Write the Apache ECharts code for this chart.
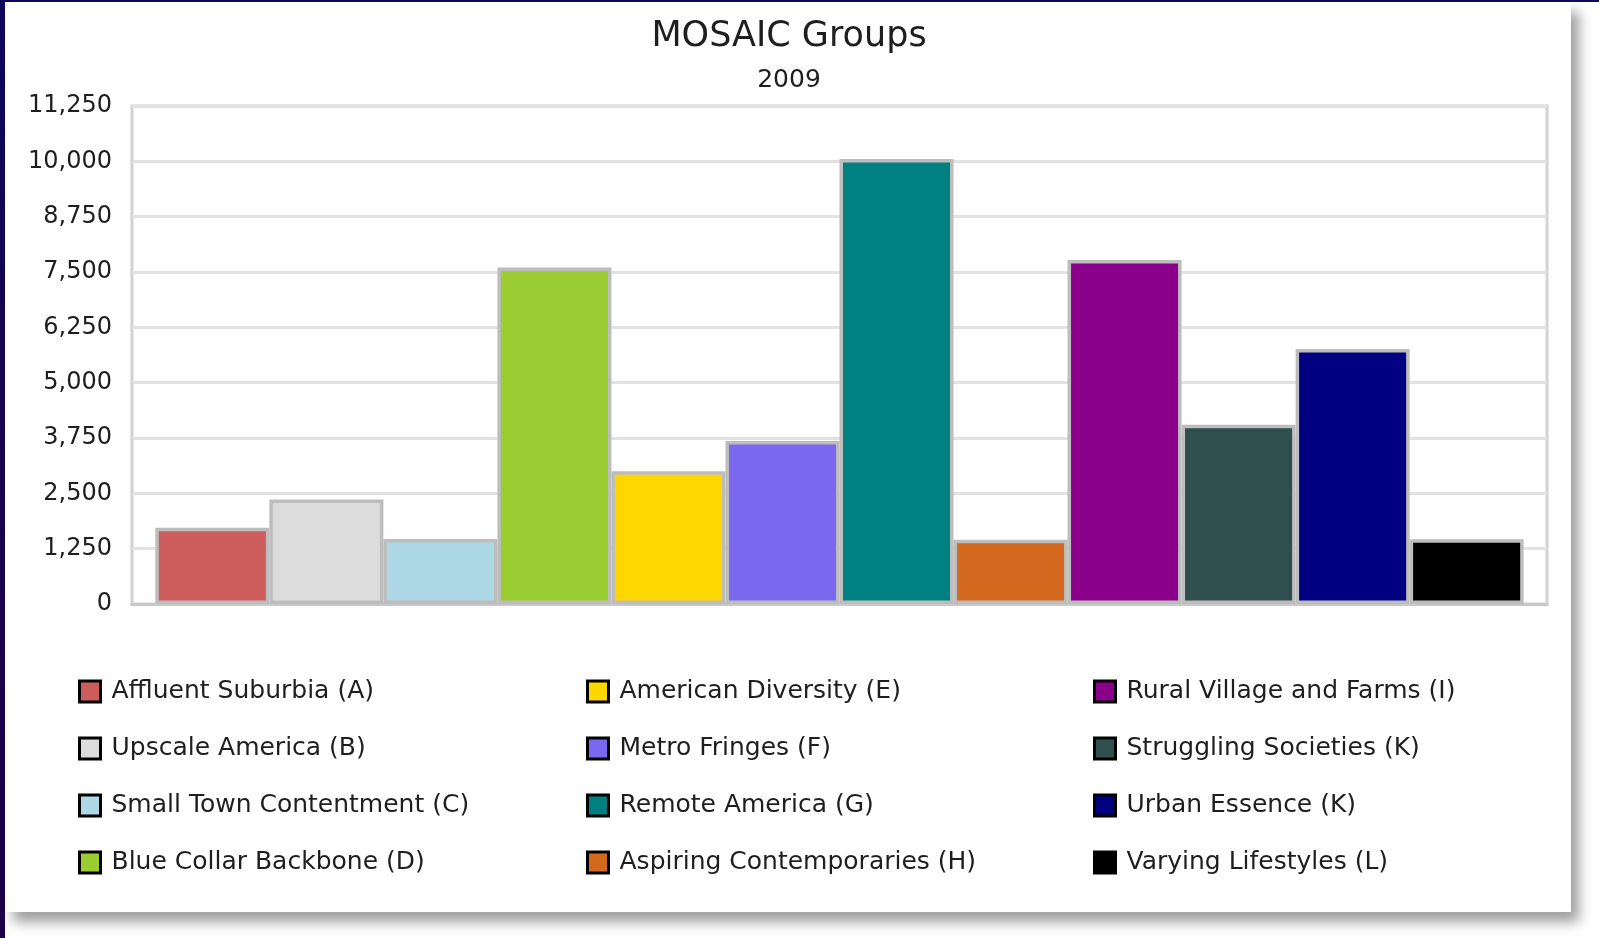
<!DOCTYPE html>
<html>
<head>
<meta charset="utf-8">
<script src="https://cdn.jsdelivr.net/npm/echarts@6/dist/echarts.min.js"></script>
<style>
  html, body { margin: 0; padding: 0; width: 1599px; height: 938px; overflow: hidden; background: #ffffff; }
  #stripL { position: absolute; left: 0; top: 0; width: 5px; height: 938px; background: linear-gradient(#10085c, #1e0046); }
  #stripT { position: absolute; left: 0; top: 0; width: 1599px; height: 2px; background: #10085c; }
  #panel { position: absolute; left: 5px; top: 2px; width: 1566px; height: 910px; background: #fff; box-shadow: 8px 10px 12px rgba(0,0,0,0.38); }
  #chart { position: absolute; left: 0; top: 0; width: 1599px; height: 938px; }
</style>
</head>
<body>
<div id="stripL"></div>
<div id="stripT"></div>
<div id="panel"></div>
<div id="chart"></div>
<script>
const chartTitle = 'MOSAIC Groups';
const chartSubtitle = '2009';
const groups = [
  'Affluent Suburbia (A)', 'Upscale America (B)', 'Small Town Contentment (C)', 'Blue Collar Backbone (D)',
  'American Diversity (E)', 'Metro Fringes (F)', 'Remote America (G)', 'Aspiring Contemporaries (H)',
  'Rural Village and Farms (I)', 'Struggling Societies (K)', 'Urban Essence (K)', 'Varying Lifestyles (L)'
];
const values = [1720, 2360, 1470, 7600, 3000, 3680, 10050, 1450, 7770, 4050, 5760, 1460];
const colors = ['#cd5c5c', '#dcdcdc', '#add8e6', '#9acd32', '#ffd700', '#7b68ee', '#008080', '#d2691e', '#8b008b', '#2f4f4f', '#000080', '#000000'];
const yTicks = [0, 1250, 2500, 3750, 5000, 6250, 7500, 8750, 10000, 11250];
const legendColumns = [groups.slice(0, 4), groups.slice(4, 8), groups.slice(8, 12)];

const FONT = 'DejaVu Sans';
const chart = echarts.init(document.getElementById('chart'), null, { renderer: 'canvas' });

const legendLefts = [78, 586, 1093];
const legends = legendColumns.map((names, i) => ({
  data: names,
  orient: 'vertical',
  left: legendLefts[i],
  top: 679,
  padding: 0,
  icon: 'rect',
  itemWidth: 21,
  itemHeight: 21,
  itemGap: 32,
  selectedMode: false,
  itemStyle: { borderColor: '#000', borderWidth: 3 },
  textStyle: { fontFamily: FONT, fontSize: 25, color: '#1e1e1e', lineHeight: 25, padding: [0, 0, 0, 6] }
}));

const option = {
  animation: false,
  backgroundColor: 'transparent',
  title: {
    text: chartTitle,
    subtext: chartSubtitle,
    left: 789,
    top: 19,
    padding: 0,
    textAlign: 'center',
    itemGap: 14,
    textStyle: { fontFamily: FONT, fontSize: 35, fontWeight: 'normal', color: '#1e1e1e' },
    subtextStyle: { fontFamily: FONT, fontSize: 25, color: '#1e1e1e' }
  },
  legend: legends,
  grid: {
    left: 132, right: 52, top: 106, bottom: 334,
    show: true, borderColor: '#d2d2d2', borderWidth: 3, backgroundColor: 'transparent',
    containLabel: false
  },
  xAxis: {
    type: 'category',
    data: [''],
    axisLine: { show: true, lineStyle: { color: '#c8c8c8', width: 3 } },
    axisTick: { show: false },
    axisLabel: { show: false },
    splitLine: { show: false }
  },
  yAxis: {
    type: 'value',
    min: yTicks[0],
    max: yTicks[yTicks.length - 1],
    interval: yTicks[1] - yTicks[0],
    axisLine: { show: false },
    axisTick: { show: false },
    splitLine: { show: true, lineStyle: { color: '#e2e2e2', width: 3 } },
    axisLabel: {
      margin: 20,
      fontFamily: FONT, fontSize: 24, color: '#1e1e1e',
      padding: [0, 0, 14, 0],
      formatter: v => v.toLocaleString('en-US')
    }
  },
  series: groups.map((name, i) => ({
    name: name,
    type: 'bar',
    data: [values[i]],
    barGap: '0%',
    barCategoryGap: '3.3%',
    itemStyle: { color: colors[i], borderColor: '#bdbdbd', borderWidth: 3.5 },
    emphasis: { disabled: true }
  }))
};
chart.setOption(option);
</script>
</body>
</html>
